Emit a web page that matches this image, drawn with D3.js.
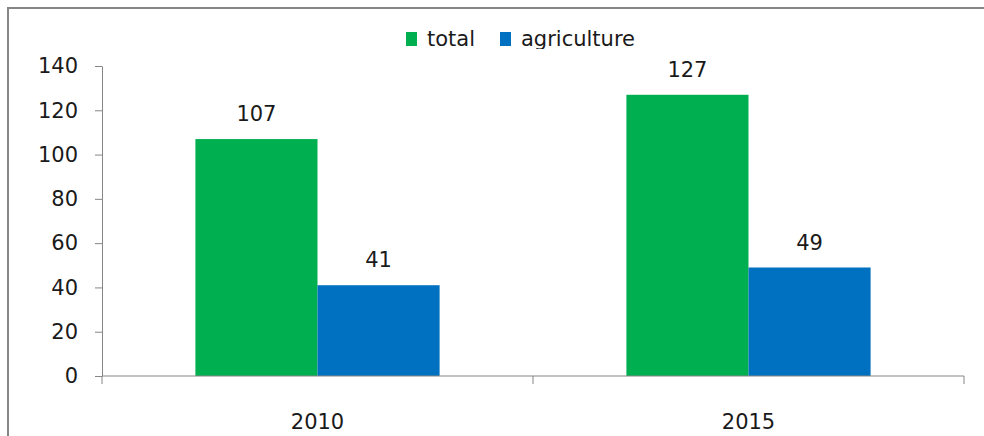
<!DOCTYPE html>
<html>
<head>
<meta charset="utf-8">
<script src="https://cdn.jsdelivr.net/npm/d3@7"></script>
<style>
  body { margin: 0; background: #fff; }
  text { font-family: "DejaVu Sans", sans-serif; fill: #1a1a1a; }
</style>
</head>
<body>
<div id="chart"></div>
<script>
// data
const years = ["2010", "2015"];
const series = ["total", "agriculture"];
const total = [107, 127];
const agriculture = [41, 49];
const yTicks = [0, 20, 40, 60, 80, 100, 120, 140];

const colors = {total: "#00B050", agriculture: "#0070C0"};
const axisColor = "#868686";

const width = 984, height = 436;
const plot = {left: 102, right: 964, top: 66, bottom: 376};

const rows = years.map((y, i) => ({year: y, total: total[i], agriculture: agriculture[i]}));

const svg = d3.select("#chart").append("svg")
    .attr("width", width)
    .attr("height", height);

// chart border (top + left visible)
svg.append("path")
    .attr("d", `M8,${height} L8,8 L${width},8`)
    .attr("fill", "none")
    .attr("stroke", axisColor)
    .attr("stroke-width", 2);

const x = d3.scaleBand()
    .domain(years)
    .range([plot.left, plot.right])
    .padding(0);

const xInner = d3.scaleBand()
    .domain(series)
    .range([0, x.bandwidth()])
    .paddingInner(0)
    .paddingOuter(0.765);

const y = d3.scaleLinear()
    .domain([0, 140])
    .range([plot.bottom, plot.top]);

// bars
const groups = svg.selectAll("g.year")
    .data(rows)
    .join("g")
    .attr("class", "year")
    .attr("transform", d => `translate(${x(d.year)},0)`);

groups.selectAll("rect")
    .data(d => series.map(s => ({key: s, value: d[s]})))
    .join("rect")
    .attr("x", d => xInner(d.key))
    .attr("width", xInner.bandwidth())
    .attr("y", d => y(d.value))
    .attr("height", d => y(0) - y(d.value))
    .attr("fill", d => colors[d.key]);

// value labels
groups.selectAll("text.value")
    .data(d => series.map(s => ({key: s, value: d[s]})))
    .join("text")
    .attr("class", "value")
    .attr("x", d => xInner(d.key) + xInner.bandwidth() / 2)
    .attr("y", d => y(d.value) - 18)
    .attr("text-anchor", "middle")
    .style("font-size", "21px")
    .text(d => d.value);

// y axis
const yAxis = svg.append("g")
    .attr("transform", `translate(${plot.left},0)`)
    .call(d3.axisLeft(y).tickValues(yTicks).tickSize(7).tickPadding(17).tickSizeOuter(0));
yAxis.select(".domain").attr("stroke", axisColor);
yAxis.selectAll(".tick line").attr("stroke", axisColor);
yAxis.selectAll(".tick text")
    .style("font-size", "21px")
    .attr("fill", "#1a1a1a");

// x axis: line, ticks at category boundaries, labels centred
const xAxis = svg.append("g");
xAxis.append("line")
    .attr("x1", plot.left).attr("x2", plot.right)
    .attr("y1", y(0)).attr("y2", y(0))
    .attr("stroke", axisColor);
const edges = years.map(d => x(d)).concat([x(years[years.length - 1]) + x.bandwidth()]);
xAxis.selectAll("line.edge")
    .data(edges)
    .join("line")
    .attr("class", "edge")
    .attr("x1", d => d).attr("x2", d => d)
    .attr("y1", y(0)).attr("y2", y(0) + 8)
    .attr("stroke", axisColor);
xAxis.selectAll("text")
    .data(years)
    .join("text")
    .attr("x", d => x(d) + x.bandwidth() / 2)
    .attr("y", 429)
    .attr("text-anchor", "middle")
    .style("font-size", "21px")
    .text(d => d);

// legend (bottom of it is cut off by the plot area, as in the original)
svg.append("clipPath").attr("id", "legclip")
    .append("rect").attr("x", 0).attr("y", 0).attr("width", width).attr("height", 49);

const legend = svg.append("g").attr("clip-path", "url(#legclip)");
const legendX = {total: 406, agriculture: 500};
series.forEach(s => {
    legend.append("rect")
        .attr("x", legendX[s]).attr("y", 32)
        .attr("width", 11).attr("height", 14)
        .attr("fill", colors[s]);
    legend.append("text")
        .attr("x", legendX[s] + 21).attr("y", 46)
        .style("font-size", "21px")
        .text(s);
});
</script>
</body>
</html>
